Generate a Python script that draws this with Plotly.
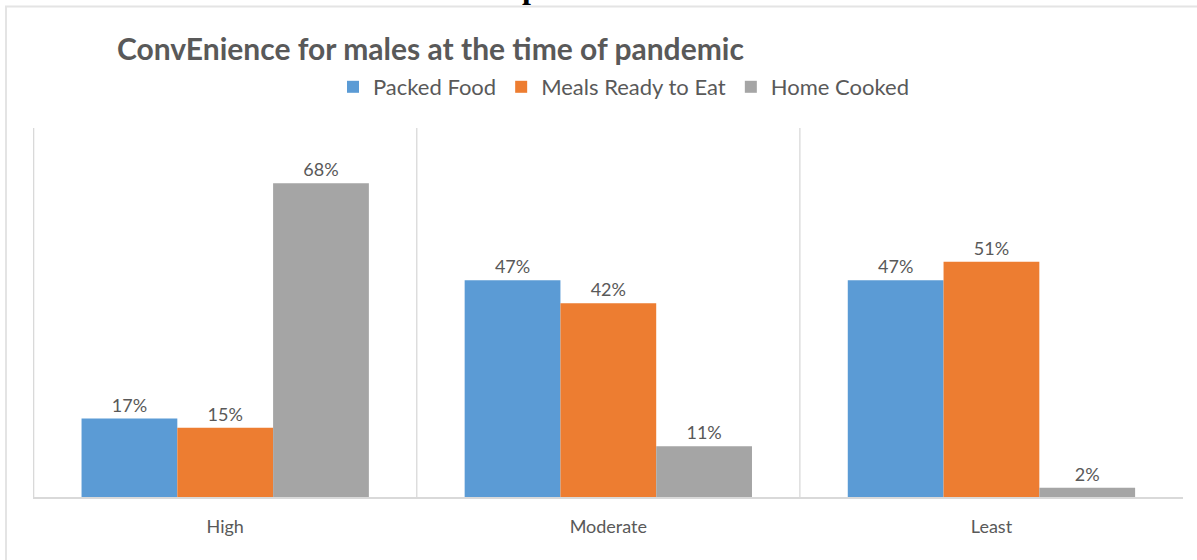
import plotly.graph_objects as go

# Survey results: share of male respondents per convenience level
categories = ["High", "Moderate", "Least"]
packed_food = [0.17, 0.47, 0.47]
meals_ready = [0.15, 0.42, 0.51]
home_cooked = [0.68, 0.11, 0.02]

series_names = ["Packed Food", "Meals Ready to Eat", "Home Cooked"]
series_colors = ["#5B9BD5", "#ED7D31", "#A5A5A5"]

W, H = 1197, 560
ML, MR, MT, MB = 33, 14, 128, 63
PW, PH = W - ML - MR, H - MT - MB

FONT = "Lato"
GREY_TEXT = "#595959"
LINE = "#D9D9D9"


def px_x(px):
    return (px - ML) / PW


def px_y(py):
    return (H - MB - py) / PH


fig = go.Figure()
for name, vals, col in zip(series_names, [packed_food, meals_ready, home_cooked], series_colors):
    fig.add_trace(go.Bar(
        name=name, x=categories, y=vals,
        marker=dict(color=col, line=dict(width=0)),
        texttemplate="%{y:.0%}", textposition="outside",
        textfont=dict(family=FONT, size=18, color=GREY_TEXT),
        cliponaxis=False,
    ))

shapes = []
# separators at category boundaries
for i in range(len(categories)):
    shapes.append(dict(type="line", xref="x", yref="y domain",
                       x0=i - 0.5, x1=i - 0.5, y0=0, y1=1,
                       line=dict(color=LINE, width=1.3), layer="below"))
# outer chart frame
shapes.append(dict(type="line", xref="paper", yref="paper",
                   x0=px_x(5), x1=px_x(W + 5), y0=px_y(6.5), y1=px_y(6.5),
                   line=dict(color="#E4E4E4", width=2)))
shapes.append(dict(type="line", xref="paper", yref="paper",
                   x0=px_x(6), x1=px_x(6), y0=px_y(6), y1=px_y(H + 5),
                   line=dict(color="#E4E4E4", width=2)))

fig.update_layout(
    width=W, height=H,
    margin=dict(l=ML, r=MR, t=MT, b=MB, autoexpand=False),
    paper_bgcolor="white", plot_bgcolor="white",
    barmode="group", bargap=0.25, bargroupgap=0,
    showlegend=True,
    legend=dict(orientation="h", x=px_x(624), xanchor="center",
                y=px_y(87), yanchor="middle",
                font=dict(family=FONT, size=22, color=GREY_TEXT),
                itemclick=False, traceorder="normal"),
    title=dict(text="<b>ConvEnience for males at the time of pandemic</b>",
               xref="container", yref="container",
               x=117 / W, xanchor="left", y=1 - 49 / H, yanchor="middle",
               font=dict(family=FONT, size=30, color=GREY_TEXT)),
    xaxis=dict(showline=True, linecolor=LINE, linewidth=1.5,
               showgrid=False, ticks="outside", ticklen=13,
               tickcolor="rgba(0,0,0,0)",
               tickfont=dict(family=FONT, size=18, color=GREY_TEXT)),
    yaxis=dict(range=[0, 0.8], visible=False, showgrid=False, zeroline=False),
    shapes=shapes,
    annotations=[dict(
        text="<b>Convenience for males at the time of pandemic</b>",
        xref="paper", yref="paper", x=px_x(15), xanchor="left",
        y=px_y(7.5), yanchor="bottom", showarrow=False,
        font=dict(family="Liberation Serif", size=32, color="black"),
    )],
)

fig.write_html("out.html")
